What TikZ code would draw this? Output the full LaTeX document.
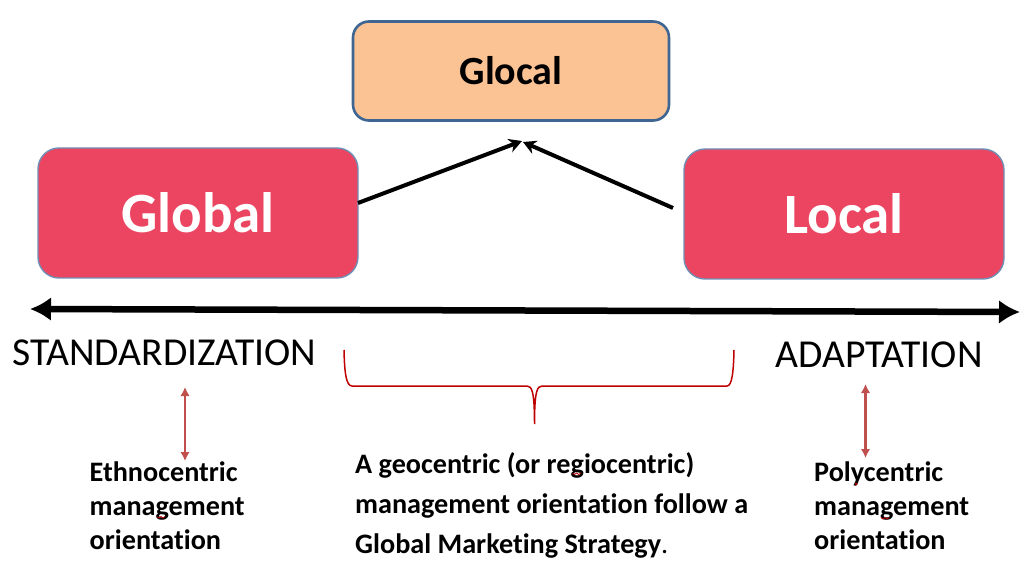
\documentclass[tikz,border=0pt]{standalone}
\usepackage{fontspec}
\setmainfont{Carlito}[Ligatures=NoCommon]
\usetikzlibrary{arrows.meta}
\definecolor{boxred}{HTML}{EB4561}
\definecolor{boxorange}{HTML}{FBC294}
\definecolor{edgeblue}{HTML}{3F6592}
\definecolor{edgesoft}{HTML}{6F8FB5}
\definecolor{bracered}{HTML}{C00000}
\definecolor{softred}{HTML}{C0504D}
\tikzset{
  x=1pt,y=-1pt,
  redbox/.style={draw=edgesoft,line width=1.4pt,fill=boxred,rounded corners=21pt,minimum width=320pt,minimum height=130pt,inner sep=0pt,text=white,font=\fontsize{57}{57}\selectfont\bfseries},
  orangebox/.style={draw=edgeblue,line width=2.6pt,fill=boxorange,rounded corners=16pt,minimum width=316pt,minimum height=99pt,inner sep=0pt,text=black,font=\fontsize{40}{40}\selectfont\bfseries},
  bigarrow/.style={line width=4pt,-{Stealth[length=13pt,width=14pt]}},
  axis/.style={line width=6.5pt,{Latex[length=21pt,width=24pt]}-{Latex[length=21pt,width=24pt]}},
  softarrow/.style={softred,line width=2.8pt,{Latex[length=9pt,width=9.5pt]}-{Latex[length=9pt,width=9.5pt]}},
  axislabel/.style={anchor=base west,inner sep=0pt,font=\fontsize{39.6}{39.6}\selectfont},
  note/.style={anchor=base west,inner sep=0pt,align=left,font=\fontsize{28.2}{34}\selectfont\bfseries},
  squiggle/.style={bracered,line width=0.8pt}
}
\begin{document}
\begin{tikzpicture}
\useasboundingbox (0,0) rectangle (1033,577);
\node[orangebox] (glocal) at (511,71) {\raisebox{-1pt}{Glocal}};
\node[redbox] (global) at (198,213) {\raisebox{-1.5pt}{Global}};
\node[redbox] (local) at (844,214) {\raisebox{-1.5pt}{Local}};
\coordinate (apexL) at (522,141);
\coordinate (apexR) at (523,142);
\coordinate (startL) at (358,203);
\coordinate (startR) at (673,208);
\draw[bigarrow] (startL) -- (apexL);
\draw[bigarrow] (startR) -- (apexR);
\coordinate (axisL) at (30,309);
\coordinate (axisR) at (1020,312);
\draw[axis] (axisL) -- (axisR);
\node[axislabel] (std) at (12,365.5) {STANDARDIZATION};
\node[axislabel] (adp) at (775.5,367) {ADAPTATION};
\coordinate (ethTop) at (185,387);
\coordinate (ethBot) at (185,461);
\draw[softarrow] (ethTop) -- (ethBot);
\coordinate (polTop) at (865.5,384);
\coordinate (polBot) at (865.5,458);
\draw[softarrow] (polTop) -- (polBot);
\coordinate (braceL) at (344,350);
\coordinate (braceR) at (734,350);
\coordinate (braceTip) at (534.5,424);
\draw[bracered,line width=1.5pt]
  (braceL) .. controls (344.5,372) and (346,386) .. (352,386)
  -- (527,386) .. controls (532,386) and (534.5,392) .. (braceTip)
  (braceTip) .. controls (534.5,392) and (537,386) .. (542,386)
  -- (727,386) .. controls (732,386) and (733.5,372) .. (braceR);
\node[note] (eth1) at (89.5,481) {Ethnocentric};
\node[note] (eth2) at (89.5,515) {management};
\node[note] (eth3) at (89.5,549) {orientation};
\node[note] (geo1) at (355,473) {A geocentric (or regiocentric)};
\node[note] (geo2) at (355,513) {management orientation follow a};
\node[note] (geo3) at (355,553) {Global Marketing Strategy{\mdseries .}};
\node[note] (pol1) at (814,481.5) {Polycentric};
\node[note] (pol2) at (814,515.5) {management};
\node[note] (pol3) at (814,549.5) {orientation};
\draw[squiggle] (157,516.5) -- (159,518) -- (161,516.5) -- (163,518) -- (165,516.5);
\draw[squiggle] (572.5,473) -- (574.5,474.5) -- (576.5,473) -- (578.5,474.5) -- (581,473);
\draw[squiggle] (881,517.5) -- (883,519) -- (885,517.5) -- (887,519) -- (889,517.5);
\draw[squiggle] (855,483) -- (857,484) -- (855,485.5);
\end{tikzpicture}
\end{document}
